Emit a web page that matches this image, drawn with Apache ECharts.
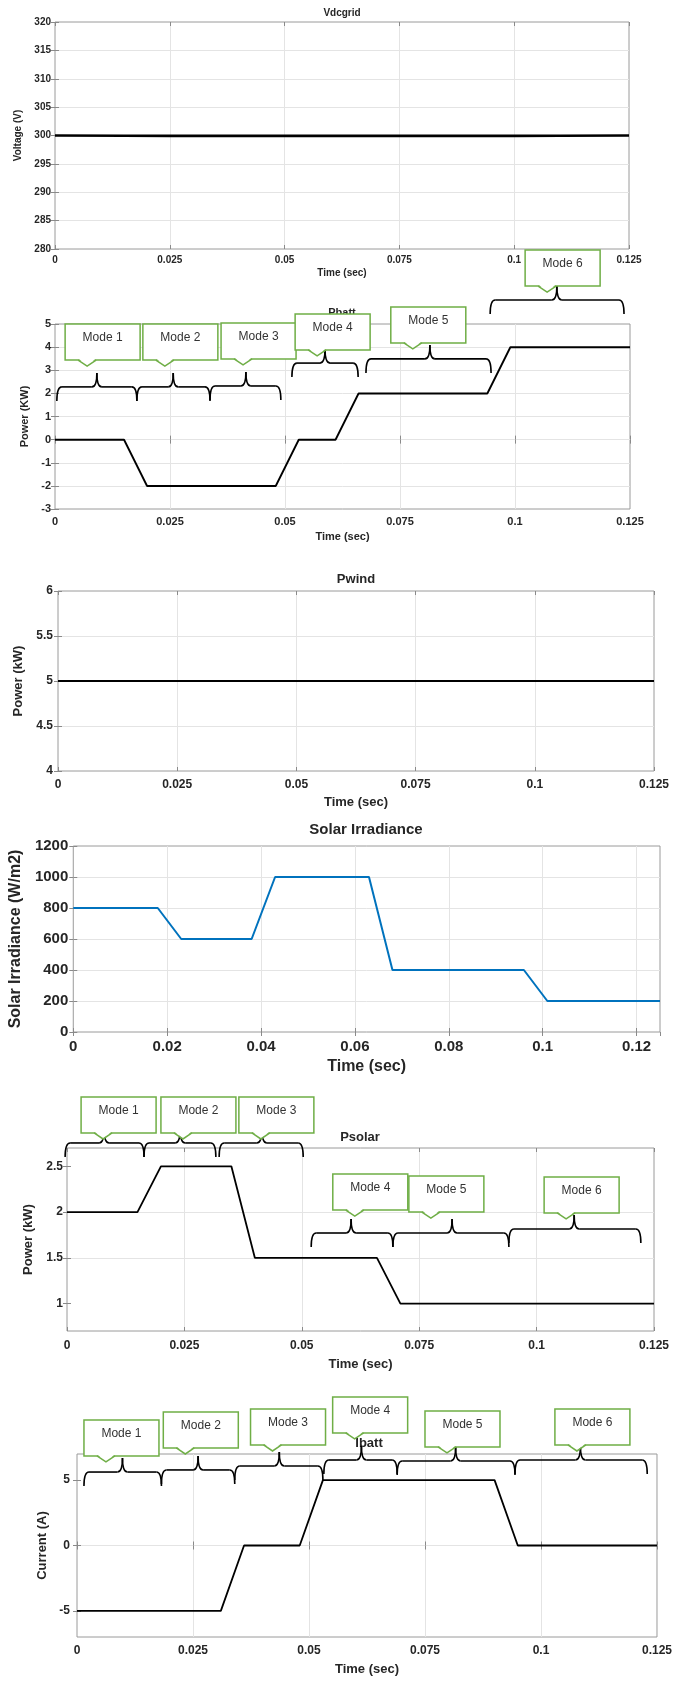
<!DOCTYPE html>
<html><head><meta charset="utf-8">
<script src="https://cdn.jsdelivr.net/npm/echarts@6/dist/echarts.min.js"></script>
<style>html,body{margin:0;padding:0;background:#fff}#c{width:675px;height:1682px}</style>
</head><body><div id="c"></div>
<script>
// ---------------- data ----------------
const vdcT = [0, 0.015, 0.025, 0.1, 0.11, 0.125];
const vdcV = [300, 299.96, 299.93, 299.93, 299.96, 300];
const pbattT = [0, 0.015, 0.020, 0.048, 0.053, 0.061, 0.066, 0.094, 0.099, 0.125];
const pbattV = [0, 0, -2, -2, 0, 0, 2, 2, 4, 4];
const pwindT = [0, 0.125];
const pwindV = [5, 5];
const solarT = [0, 0.018, 0.023, 0.038, 0.043, 0.063, 0.068, 0.096, 0.101, 0.125];
const solarV = [800, 800, 600, 600, 1000, 1000, 400, 400, 200, 200];
const psolarT = [0, 0.015, 0.020, 0.035, 0.040, 0.066, 0.071, 0.125];
const psolarV = [2, 2, 2.5, 2.5, 1.5, 1.5, 1, 1];
const ibattT = [0, 0.031, 0.036, 0.048, 0.053, 0.090, 0.095, 0.125];
const ibattV = [-5, -5, 0, 0, 5, 5, 0, 0];

const modeLabels = ['Mode 1', 'Mode 2', 'Mode 3', 'Mode 4', 'Mode 5', 'Mode 6'];
// annotation anchors in data units: brace [start, end, tip, level], box [left, bottom]
const pbattBraces = [[0.0004,0.0178,0.0091,2.28],[0.0178,0.0337,0.0257,2.28],[0.0337,0.0491,0.0415,2.32],[0.0515,0.0659,0.0587,3.31],[0.0676,0.0948,0.0815,3.49],[0.0946,0.1237,0.1091,6.04]];
const pbattBoxes = [[0.0022,3.44],[0.0191,3.44],[0.0361,3.49],[0.0522,3.88],[0.0730,4.18],[0.1022,6.64]];
const psolarBraces = [[-0.0004,0.0164,0.0079,2.755],[0.0164,0.0317,0.0241,2.755],[0.0324,0.0503,0.0415,2.755],[0.0520,0.0694,0.0605,1.771],[0.0694,0.0941,0.0820,1.771],[0.0941,0.1222,0.1080,1.815]];
const psolarBoxes = [[0.0030,2.864],[0.0200,2.864],[0.0366,2.864],[0.0566,2.022],[0.0728,2.0],[0.1016,1.99]];
const ibattBraces = [[0.0015,0.0182,0.0098,5.62],[0.0182,0.0340,0.0261,5.78],[0.0340,0.0530,0.0436,6.08],[0.0532,0.0690,0.0613,6.54],[0.0690,0.0944,0.0816,6.46],[0.0944,0.1229,0.1085,6.54]];
const ibattBoxes = [[0.0015,6.85],[0.0186,7.46],[0.0374,7.69],[0.0551,8.61],[0.0750,7.54],[0.1030,7.69]];

const psolarYTicks = [1, 1.5, 2, 2.5];
const ibattYTicks = [-5, 0, 5];

// ---------------- layout ----------------
const FF = '"Liberation Sans", Arial, sans-serif';
const TXT = '#262626';
const panels = [
  {title:'Vdcgrid', tx:342, ty:13, ts:10, grid:{left:55, top:22, width:574, height:227},
   yName:'Voltage (V)', ymin:280, ymax:320, yint:5, tick:10, nameSize:10, xMargin:6, xGap:19, yGap:26, yMargin:4,
   t:vdcT, v:vdcV, color:'#000', lw:2.6},
  {title:'Pbatt', tx:342, ty:313, ts:11, grid:{left:55, top:324, width:575, height:185},
   yName:'Power (KW)', ymin:-3, ymax:5, yint:1, tick:11, nameSize:11, xMargin:7, xGap:22, yGap:17, yMargin:4,
   t:pbattT, v:pbattV, color:'#000', lw:2, braces:pbattBraces, boxes:pbattBoxes},
  {title:'Pwind', tx:356, ty:579, ts:13, grid:{left:58, top:591, width:596, height:180},
   yName:'Power (kW)', ymin:4, ymax:6, yint:0.5, tick:12, nameSize:13, xMargin:8, xGap:25, yGap:25, yMargin:5,
   t:pwindT, v:pwindV, color:'#000', lw:2},
  {title:'Solar Irradiance', tx:366, ty:830, ts:15, grid:{left:71, top:846, width:589, height:186},
   yName:'Solar Irradiance (W/m2)', ymin:0, ymax:1200, yint:200, tick:15, nameSize:16, xMargin:7, xGap:27, yGap:38, yMargin:5,
   xint:0.02, hideMax:true, t:solarT, v:solarV, color:'#0072BD', lw:2},
  {title:'Psolar', tx:360, ty:1137, ts:13, grid:{left:67, top:1148, width:587, height:183},
   yName:'Power (kW)', ymin:0.7, ymax:2.7, yTicks:psolarYTicks, tick:12, nameSize:13, xMargin:9, xGap:27, yGap:26, yMargin:4,
   t:psolarT, v:psolarV, color:'#000', lw:1.8, braces:psolarBraces, boxes:psolarBoxes},
  {title:'Ibatt', tx:369, ty:1443, ts:13, grid:{left:77, top:1454, width:585, height:183},
   yName:'Current (A)', ymin:-7, ymax:7, yTicks:ibattYTicks, tick:12, nameSize:13, xMargin:8, xGap:26, yGap:19, yMargin:7,
   t:ibattT, v:ibattV, color:'#000', lw:1.8, braces:ibattBraces, boxes:ibattBoxes}
];

const fmt = v => String(parseFloat(Number(v).toFixed(4)));
const GREEN = '#6fae46';
const BOX_W = 75, BOX_H = 36, NOTCH = 22, DROP = 14, RISE = 14;

function annotRender(params, api) {
  const lvl = api.value(3);
  const a = api.coord([api.value(0), lvl]);
  const b = api.coord([api.value(1), lvl]);
  const t = api.coord([api.value(2), lvl]);
  const bx = api.coord([api.value(4), api.value(5)]);
  const y = a[1];
  const ls = {stroke:'#000', lineWidth:1.6, fill:null};
  const children = [];
  children.push({type:'bezierCurve', shape:{x1:a[0], y1:y+DROP, cpx1:a[0], cpy1:y, x2:a[0]+5, y2:y}, style:ls});
  children.push({type:'line', shape:{x1:a[0]+5, y1:y, x2:t[0]-5, y2:y}, style:ls});
  children.push({type:'bezierCurve', shape:{x1:t[0]-5, y1:y, cpx1:t[0], cpy1:y, x2:t[0], y2:y-RISE}, style:ls});
  children.push({type:'bezierCurve', shape:{x1:t[0], y1:y-RISE, cpx1:t[0], cpy1:y, x2:t[0]+5, y2:y}, style:ls});
  children.push({type:'line', shape:{x1:t[0]+5, y1:y, x2:b[0]-5, y2:y}, style:ls});
  children.push({type:'bezierCurve', shape:{x1:b[0]-5, y1:y, cpx1:b[0], cpy1:y, x2:b[0], y2:y+DROP}, style:ls});
  const L = bx[0], B = bx[1], T = B - BOX_H, nx = L + NOTCH;
  children.push({type:'rect', shape:{x:L, y:T, width:BOX_W, height:BOX_H}, style:{fill:'#fff', stroke:GREEN, lineWidth:1.5}});
  children.push({type:'polygon', shape:{points:[[nx-8,B-1],[nx+8,B-1],[nx,B+6]]}, style:{fill:'#fff', stroke:null}});
  children.push({type:'polyline', shape:{points:[[nx-9,B],[nx,B+6],[nx+9,B]]}, style:{stroke:GREEN, lineWidth:1.5, fill:null}});
  children.push({type:'text', x:L+BOX_W/2, y:T+14, style:{text:modeLabels[params.dataIndex], align:'center', verticalAlign:'middle', fontSize:12, fontFamily:'"Liberation Sans Narrow", "Liberation Sans", Arial, sans-serif', fill:'#333'}});
  return {type:'group', children};
}

const grids = [], xAxes = [], yAxes = [], series = [], graphics = [];
const tickStyle = {show:true, inside:true, length:4, lineStyle:{color:'#8a8a8a'}};
panels.forEach((p, i) => {
  grids.push(Object.assign({show:true, borderColor:'#9a9a9a', borderWidth:1, containLabel:false}, p.grid));
  xAxes.push({type:'value', gridIndex:i, min:0, max:0.125, interval:p.xint || 0.025,
    name:'Time (sec)', nameLocation:'middle', nameGap:p.xGap,
    nameTextStyle:{fontSize:p.nameSize, fontWeight:'bold', color:TXT, fontFamily:FF},
    axisLine:{show:false},
    axisTick:Object.assign({}, tickStyle),
    axisLabel:{fontSize:p.tick, fontWeight:'bold', color:TXT, fontFamily:FF, margin:p.xMargin, formatter:fmt, showMaxLabel: p.hideMax ? false : true, showMinLabel:true},
    splitLine:{show:true, showMinLine:false, showMaxLine:false, lineStyle:{color:'#e4e4e4', width:1}}
  });
  const y = {type:'value', gridIndex:i, min:p.ymin, max:p.ymax,
    name:p.yName, nameLocation:'middle', nameGap:p.yGap,
    nameTextStyle:{fontSize:p.nameSize, fontWeight:'bold', color:TXT, fontFamily:FF},
    axisLine:{show:false},
    axisTick:Object.assign({}, tickStyle),
    axisLabel:{fontSize:p.tick, fontWeight:'bold', color:TXT, fontFamily:FF, margin:p.yMargin, formatter:fmt},
    splitLine:{show:true, showMinLine:false, showMaxLine:false, lineStyle:{color:'#e4e4e4', width:1}}
  };
  if (p.yTicks) {
    y.axisTick.customValues = p.yTicks;
    y.axisLabel.customValues = p.yTicks;
  } else {
    y.interval = p.yint;
  }
  yAxes.push(y);
  series.push({type:'line', xAxisIndex:i, yAxisIndex:i, data:p.t.map((t, k) => [t, p.v[k]]),
    showSymbol:false, symbol:'none', lineStyle:{color:p.color, width:p.lw}, z:3, animation:false});
  if (p.braces) {
    series.push({type:'custom', xAxisIndex:i, yAxisIndex:i, clip:false, z:10, silent:true, animation:false,
      data:p.braces.map((br, k) => br.concat(p.boxes[k])), renderItem:annotRender});
  }
  graphics.push({type:'text', x:p.tx, y:p.ty, z:1,
    style:{text:p.title, align:'center', verticalAlign:'middle', textAlign:'center', textVerticalAlign:'middle', fontSize:p.ts, fontWeight:'bold', fontFamily:FF, fill:TXT}});
});
// mirrored tick marks on top and right edges (MATLAB box style)
panels.forEach((p, i) => {
  xAxes.push({type:'value', gridIndex:i, position:'top', min:0, max:0.125, interval:p.xint || 0.025,
    axisLine:{show:false}, axisTick:Object.assign({}, tickStyle), axisLabel:{show:false}, splitLine:{show:false}});
  const yr = {type:'value', gridIndex:i, position:'right', min:p.ymin, max:p.ymax,
    axisLine:{show:false}, axisTick:Object.assign({}, tickStyle), axisLabel:{show:false}, splitLine:{show:false}};
  if (p.yTicks) { yr.axisTick.customValues = p.yTicks; } else { yr.interval = p.yint; }
  yAxes.push(yr);
});

const chart = echarts.init(document.getElementById('c'), null, {renderer:'canvas'});
chart.setOption({
  backgroundColor:'#fff', animation:false,
  grid:grids, xAxis:xAxes, yAxis:yAxes, series:series, graphic:graphics
});
</script></body></html>
